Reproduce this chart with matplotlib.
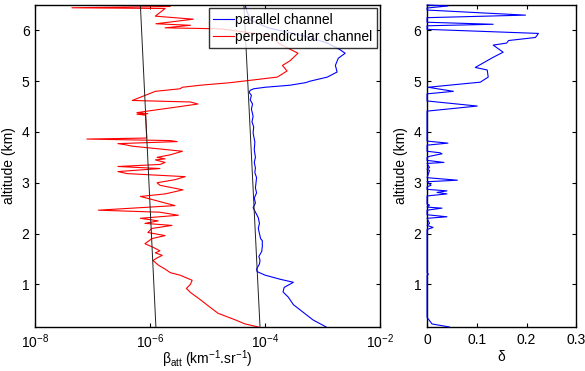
"""Lidar attenuated backscatter profiles (parallel / perpendicular) and depolarization ratio."""
import matplotlib

matplotlib.use("Agg")
import matplotlib.pyplot as plt
import numpy as np

plt.rcParams["font.family"] = ["Liberation Sans", "DejaVu Sans"]
plt.rcParams["font.size"] = 10
plt.rcParams["mathtext.fontset"] = "custom"
plt.rcParams["mathtext.rm"] = "Liberation Sans"
plt.rcParams["mathtext.it"] = "Liberation Sans:italic"

# perpendicular channel: altitude (km), log10 beta_att
perp_alt = [6.50, 6.47, 6.445, 6.43, 6.28, 6.22, 6.13, 6.10, 6.05, 6.03, 5.90, 5.74,
            5.55, 5.40, 5.31, 5.20, 5.08, 4.97, 4.92, 4.88, 4.85, 4.80, 4.62, 4.59,
            4.55, 4.50, 4.41, 4.38, 4.36, 4.35, 4.33, 4.00, 3.88, 3.86, 3.83, 3.81,
            3.77, 3.75, 3.72, 3.62, 3.55, 3.50, 3.47, 3.45, 3.40, 3.36, 3.32, 3.28,
            3.22, 3.18, 3.12, 3.06, 3.00, 2.95, 2.86, 2.78, 2.73, 2.68, 2.55, 2.46,
            2.42, 2.36, 2.30, 2.25, 2.20, 2.16, 2.10, 2.02, 1.96, 1.90, 1.80, 1.73,
            1.66, 1.62, 1.57, 1.52, 1.47, 1.38, 1.30, 1.23, 1.18, 1.08, 1.00, 0.92,
            0.84, 0.70, 0.55, 0.43, 0.30, 0.22, 0.16]
perp_log = [-6.00, -5.65, -7.36, -5.74, -5.91, -5.25, -5.90, -5.30, -5.74, -4.78, -3.91, -3.76,
            -3.43, -3.57, -3.70, -3.62, -3.79, -4.61, -5.13, -5.44, -5.48, -5.91, -6.31, -5.30,
            -5.17, -5.48, -6.05, -6.23, -6.04, -6.23, -6.08, -6.065, -6.06, -7.10, -5.65, -5.53,
            -6.56, -6.44, -6.31, -5.44, -5.65, -5.88, -5.74, -5.91, -5.74, -5.83, -6.56, -5.83,
            -6.56, -6.40, -5.39, -5.57, -5.88, -5.83, -5.43, -5.74, -6.17, -6.00, -5.57, -6.90,
            -5.83, -5.51, -6.17, -5.86, -6.09, -5.62, -5.97, -6.04, -5.74, -5.97, -6.09, -5.95,
            -5.83, -5.91, -5.79, -5.88, -5.95, -5.86, -5.74, -5.65, -5.48, -5.27, -5.30, -5.37,
            -5.30, -5.13, -4.96, -4.82, -4.52, -4.35, -4.12]

# parallel channel: altitude (km), log10 beta_att
par_alt = [0.16, 0.30, 0.45, 0.60, 0.75, 0.85, 0.94, 1.04, 1.10, 1.18, 1.25, 1.30,
           1.40, 1.47, 1.55, 1.65, 1.75, 1.86, 1.90, 2.00, 2.10, 2.20, 2.31, 2.40,
           2.51, 2.60, 2.70, 2.80, 2.90, 3.00, 3.10, 3.20, 3.29, 3.40, 3.50, 3.65,
           3.80, 3.98, 4.10, 4.20, 4.31, 4.45, 4.55, 4.63, 4.72, 4.78, 4.82, 4.85,
           4.88, 4.92, 4.97, 5.00, 5.08, 5.18, 5.31, 5.45, 5.55, 5.62, 5.75, 5.85,
           5.95, 6.05, 6.20, 6.35, 6.50]
par_log = [-2.94, -3.17, -3.34, -3.51, -3.60, -3.69, -3.67, -3.51, -3.74, -4.00, -4.14, -4.15,
           -4.10, -4.09, -4.11, -4.06, -4.05, -4.05, -4.08, -4.10, -4.12, -4.10, -4.12, -4.16,
           -4.21, -4.17, -4.19, -4.15, -4.17, -4.16, -4.15, -4.18, -4.17, -4.19, -4.17, -4.19,
           -4.18, -4.21, -4.20, -4.23, -4.21, -4.24, -4.22, -4.26, -4.24, -4.28, -4.26, -4.20,
           -4.00, -3.57, -3.30, -3.22, -2.92, -2.75, -2.78, -2.73, -2.61, -2.70, -2.92, -3.20,
           -3.55, -3.95, -4.25, -4.31, -4.35]

# molecular reference lines (altitude, log10 beta)
mol_alt = [0.16, 6.5]
mol_perp_log = [-5.90, -6.17]
mol_par_log = [-4.09, -4.37]

# depolarization ratio
delta_alt = [6.50, 6.48, 6.44, 6.40, 6.30, 6.25, 6.23, 6.16, 6.12, 6.09, 6.07, 6.02,
             5.94, 5.86, 5.80, 5.75, 5.71, 5.57, 5.47, 5.27, 5.22, 5.08, 4.98, 4.88,
             4.80, 4.75, 4.61, 4.51, 4.41, 3.82, 3.78, 3.74, 3.62, 3.59, 3.57, 3.52,
             3.50, 3.44, 3.40, 3.38, 3.30, 3.27, 3.24, 3.10, 3.05, 3.02, 2.95, 2.92,
             2.87, 2.84, 2.81, 2.78, 2.74, 2.58, 2.56, 2.52, 2.50, 2.46, 2.37, 2.33,
             2.30, 2.20, 2.16, 2.12, 2.08, 1.22, 1.20, 1.18, 0.35, 0.22, 0.16]
delta_val = [0.000, 0.042, 0.000, 0.000, 0.198, 0.000, 0.000, 0.000, 0.133, 0.000, 0.000, 0.000,
             0.224, 0.218, 0.164, 0.160, 0.133, 0.153, 0.133, 0.097, 0.121, 0.123, 0.107, 0.002,
             0.053, 0.000, 0.000, 0.101, 0.000, 0.000, 0.042, 0.000, 0.000, 0.026, 0.030, 0.005,
             0.000, 0.000, 0.034, 0.000, 0.005, 0.000, 0.005, 0.000, 0.061, 0.000, 0.008, 0.000,
             0.000, 0.040, 0.020, 0.040, 0.000, 0.000, 0.005, 0.000, 0.030, 0.000, 0.000, 0.040,
             0.000, 0.005, 0.000, 0.012, 0.000, 0.000, 0.003, 0.000, 0.000, 0.010, 0.045]


def style_axes(ax):
    ax.tick_params(direction="in", top=True, right=True, length=3, width=0.8,
                   labelsize=10, pad=4)
    for sp in ax.spines.values():
        sp.set_linewidth(1.0)


fig = plt.figure(figsize=(5.85, 3.71), dpi=100)
ax1 = fig.add_axes([0.060, 0.1186, 0.590, 0.868])
ax2 = fig.add_axes([0.730, 0.1186, 0.255, 0.868])

ax1.plot(10 ** np.array(par_log), par_alt, color="#0000ff", lw=0.8, label="parallel channel")
ax1.plot(10 ** np.array(perp_log), perp_alt, color="#ff0000", lw=0.8,
         label="perpendicular channel")
ax1.plot(10 ** np.array(mol_perp_log), mol_alt, color="#202020", lw=0.7)
ax1.plot(10 ** np.array(mol_par_log), mol_alt, color="#202020", lw=0.7)
ax1.set_xscale("log")
ax1.set_xlim(1e-8, 1e-2)
ax1.set_ylim(0.16, 6.5)
ax1.set_xticks([1e-8, 1e-6, 1e-4, 1e-2])
ax1.xaxis.set_minor_locator(matplotlib.ticker.NullLocator())
ax1.set_yticks([1, 2, 3, 4, 5, 6])
ax1.set_xlabel("β$_{\\mathrm{att}}$ (km$^{-1}$.sr$^{-1}$)")
ax1.xaxis.set_label_coords(0.5, -0.068)
ax1.set_ylabel("altitude (km)", labelpad=4)
style_axes(ax1)
leg = ax1.legend(loc="upper right", fontsize=10, frameon=True, fancybox=False,
                 edgecolor="black", borderaxespad=0.25, handlelength=1.5,
                 handletextpad=0.1, borderpad=0.3, labelspacing=0.25)
leg.get_frame().set_linewidth(1.0)

ax2.plot(delta_val, delta_alt, color="#0000ff", lw=0.8, zorder=3, clip_on=False)
ax2.set_xlim(0, 0.3)
ax2.set_ylim(0.16, 6.5)
ax2.set_xticks([0, 0.1, 0.2, 0.3])
ax2.set_xticklabels(["0", "0.1", "0.2", "0.3"])
ax2.set_yticks([1, 2, 3, 4, 5, 6])
ax2.set_xlabel("δ")
ax2.xaxis.set_label_coords(0.5, -0.072)
ax2.set_ylabel("altitude (km)", labelpad=4)
style_axes(ax2)

fig.savefig("out.png", dpi=100)
